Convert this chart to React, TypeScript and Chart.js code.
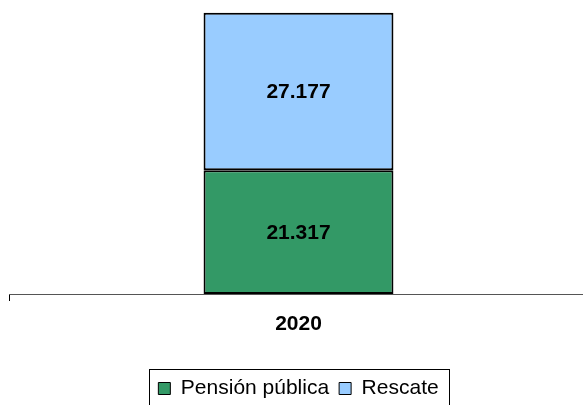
import React, { useEffect, useRef } from "react";
import { Chart, registerables } from "chart.js";

Chart.register(...registerables);

const categories = ["2020"];
const seriesNames = ["Pensión pública", "Rescate"];
const pensionPublica = [21317];
const rescate = [27177];
const seriesColors = ["#339966", "#99CCFF"];
const yMax = 50000;

const FONT = "Arial, 'Liberation Sans', sans-serif";

function fmt(v: number): string {
  return String(v).replace(/\B(?=(\d{3})+(?!\d))/g, ".");
}

const valueLabels = {
  id: "valueLabels",
  afterDatasetsDraw(chart: any) {
    const ctx = chart.ctx;
    ctx.save();
    ctx.font = `bold 21px ${FONT}`;
    ctx.fillStyle = "#000";
    ctx.textAlign = "center";
    ctx.textBaseline = "middle";
    chart.data.datasets.forEach((ds: any, i: number) => {
      chart.getDatasetMeta(i).data.forEach((bar: any, j: number) => {
        const p = bar.getProps(["x", "y", "base"], true);
        ctx.fillText(fmt(ds.data[j]), p.x, (p.y + p.base) / 2 + 1);
      });
    });
    ctx.restore();
  },
};

const legendBorder = {
  id: "legendBorder",
  afterDraw(chart: any) {
    const lg = chart.legend;
    const hb = lg && lg.legendHitBoxes;
    if (!hb || !hb.length) return;
    const ctx = chart.ctx;
    const first = hb[0];
    const last = hb[hb.length - 1];
    const left = Math.round(first.left - 9);
    const right = Math.round(last.left + last.width + 10);
    const top = Math.round(first.top - 9);
    ctx.save();
    ctx.strokeStyle = "#000";
    ctx.lineWidth = 1;
    ctx.strokeRect(left + 0.5, top + 0.5, right - left, chart.height - top + 10);
    ctx.restore();
  },
};

export default function App() {
  const ref = useRef<HTMLCanvasElement | null>(null);

  useEffect(() => {
    if (!ref.current) return;
    const chart = new Chart(ref.current, {
      type: "bar",
      data: {
        labels: categories,
        datasets: [
          {
            label: seriesNames[0],
            data: pensionPublica,
            backgroundColor: seriesColors[0],
            borderColor: "#000",
            borderWidth: 2,
            borderSkipped: false,
          },
          {
            label: seriesNames[1],
            data: rescate,
            backgroundColor: seriesColors[1],
            borderColor: "#000",
            borderWidth: 2,
            borderSkipped: false,
          },
        ],
      },
      options: {
        responsive: true,
        maintainAspectRatio: false,
        animation: false,
        events: [],
        layout: { padding: { top: 4, left: 9, right: 2, bottom: 0 } },
        datasets: {
          bar: { categoryPercentage: 1, barPercentage: 0.328 },
        },
        scales: {
          x: {
            stacked: true,
            offset: true,
            grid: {
              display: true,
              drawOnChartArea: false,
              drawTicks: true,
              tickLength: 7,
              color: "#000",
              lineWidth: 1,
              offset: true,
            },
            border: { display: true, color: "#555", width: 1 },
            ticks: {
              font: { family: FONT, size: 21, weight: "bold" },
              color: "#000",
              padding: 11,
            },
            afterFit: (s: any) => {
              s.height = 74;
            },
          },
          y: {
            stacked: true,
            display: false,
            min: 0,
            max: yMax,
          },
        },
        plugins: {
          tooltip: { enabled: false },
          legend: {
            display: true,
            position: "bottom",
            labels: {
              font: { family: FONT, size: 21 },
              color: "#000",
              boxWidth: 12,
              boxHeight: 12,
              padding: 10,
              generateLabels: (c: any) =>
                Chart.defaults.plugins.legend.labels
                  .generateLabels(c)
                  .map((l: any) => ({ ...l, lineWidth: 1, strokeStyle: "#000" })),
            },
          },
        },
      } as any,
      plugins: [valueLabels, legendBorder],
    });
    return () => chart.destroy();
  }, []);

  return (
    <div
      style={{
        position: "fixed",
        left: 0,
        top: 0,
        width: 583,
        height: 405,
        overflow: "hidden",
        background: "#fff",
      }}
    >
      <div style={{ position: "relative", width: 590, height: 409 }}>
        <canvas ref={ref} />
      </div>
    </div>
  );
}
